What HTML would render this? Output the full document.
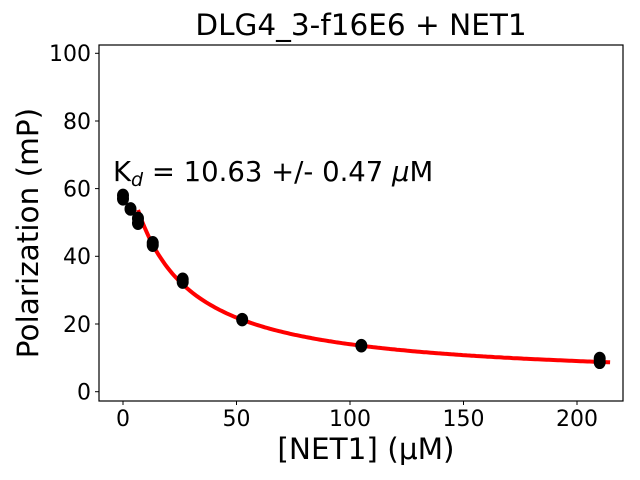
<!DOCTYPE html>
<html><head><meta charset="utf-8"><style>body{margin:0;background:#fff}svg{display:block}</style></head><body>
<svg id="s" width="640" height="480" xmlns="http://www.w3.org/2000/svg" font-family="'DejaVu Sans','Liberation Sans',sans-serif">
<rect width="640" height="480" fill="#fff"/>
<text x="361" y="35" font-size="29.5" text-anchor="middle">DLG4_3-f16E6 + NET1</text>
<g font-size="22" text-anchor="middle">
<text x="123" y="426">0</text><text x="236.5" y="426">50</text><text x="350" y="426">100</text><text x="463.5" y="426">150</text><text x="577" y="426">200</text>
</g>
<g font-size="22" text-anchor="end">
<text x="91" y="399.5">0</text><text x="91" y="331.8">20</text><text x="91" y="264">40</text><text x="91" y="196.5">60</text><text x="91" y="128.8">80</text><text x="91" y="61">100</text>
</g>
<g stroke="#000" stroke-width="1">
<line x1="123" y1="401" x2="123" y2="405"/><line x1="236.5" y1="401" x2="236.5" y2="405"/><line x1="350" y1="401" x2="350" y2="405"/><line x1="463.5" y1="401" x2="463.5" y2="405"/><line x1="577" y1="401" x2="577" y2="405"/>
<line x1="95" y1="391.7" x2="99" y2="391.7"/><line x1="95" y1="324" x2="99" y2="324"/><line x1="95" y1="256.3" x2="99" y2="256.3"/><line x1="95" y1="188.6" x2="99" y2="188.6"/><line x1="95" y1="121" x2="99" y2="121"/><line x1="95" y1="53.3" x2="99" y2="53.3"/>
</g>
<text x="366" y="459" font-size="29.5" text-anchor="middle">[NET1] (μM)</text>
<text transform="translate(38,233) rotate(-90)" font-size="29.5" text-anchor="middle">Polarization (mP)</text>
<text x="113" y="181" font-size="27.5">K<tspan font-size="19" font-style="italic" dy="5">d</tspan><tspan dy="-5"> = 10.63 +/- 0.47 </tspan><tspan font-style="italic">μ</tspan>M</text>
<path id="c" fill="none" stroke="#f00" stroke-width="4"/>
<g id="d"></g>
<rect x="99" y="45" width="524" height="356" fill="none" stroke="#000" stroke-width="1.2"/>
</svg>
<script>
var X=function(x){return 123+2.27*x},Y=function(y){return 391.7-3.384*y};
var p="";for(var x=6.6;x<=215;x+=1){var y=3.15+1294/(19+x);p+=(p==""?"M":"L")+X(x).toFixed(1)+" "+Y(y).toFixed(1);}
document.getElementById("c").setAttribute("d",p);
var pts=[[0,58],[0,57],[3.3,54],[6.6,51.2],[6.6,49.8],[13.1,44],[13.1,43.3],[26.3,33.2],[26.3,32.4],[52.5,21.3],[105,13.6],[210,9.8],[210,8.7]];
var g="";pts.forEach(function(q){g+='<ellipse cx="'+X(q[0])+'" cy="'+Y(q[1])+'" rx="6" ry="6.8" fill="#000"/>';});
document.getElementById("d").innerHTML=g;
</script>
</body></html>
